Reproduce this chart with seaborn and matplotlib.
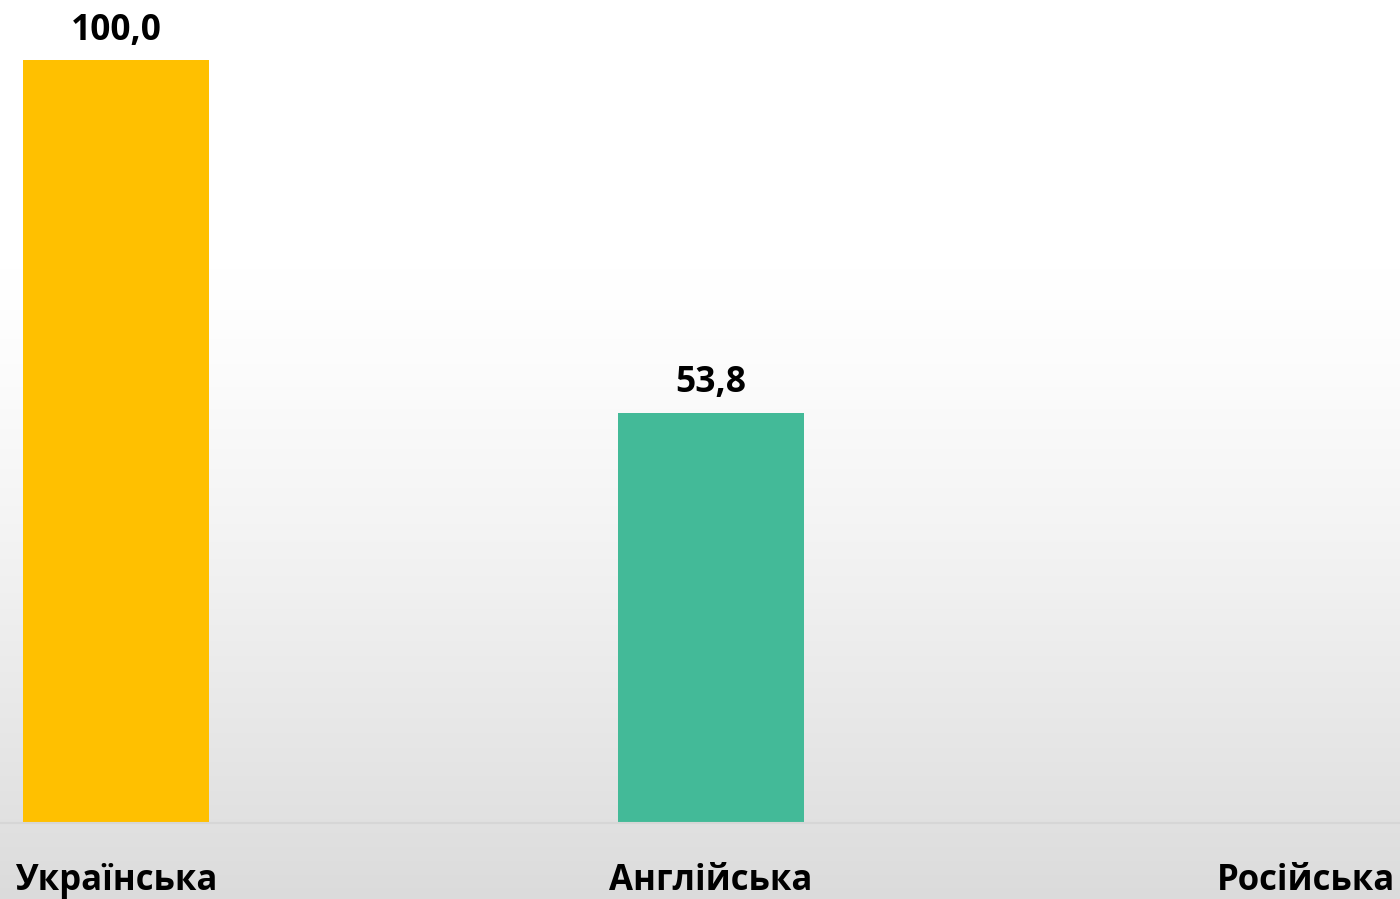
import numpy as np
import pandas as pd
import matplotlib.pyplot as plt
import seaborn as sns

# Data
languages = ["Українська", "Англійська", "Російська"]
values = [100.0, 53.8, np.nan]
bar_colors = ["#FFC000", "#43BA98", "#A5A5A5"]

df = pd.DataFrame({"lang": languages, "value": values})

sns.set_theme(style="white")
plt.rcParams['font.family'] = ['Open Sans', 'DejaVu Sans']

fig = plt.figure(figsize=(14, 8.99), dpi=100)

# Background gradient (white at top -> light grey at bottom)
bg = fig.add_axes([0, 0, 1, 1], zorder=0)
ys = np.linspace(0, 1, 400)
shade = np.clip((ys - 0.3) / 0.7, 0, 1)
grey = 1.0 - 0.14 * shade ** 1.3
img = np.repeat(grey[:, None], 2, axis=1)
bg.imshow(np.dstack([img, img, img]), aspect="auto", extent=[0, 1, 1, 0])
bg.set_xlim(0, 1)
bg.set_ylim(1, 0)
bg.axis("off")

# Main axes: bottom edge at the baseline
base_frac = (899 - 823) / 899
ax = fig.add_axes([0, base_frac, 1, 1 - base_frac], zorder=1)
ax.patch.set_alpha(0)

sns.barplot(data=df, x="lang", y="value", hue="lang", palette=bar_colors,
            width=0.314, legend=False, ax=ax, saturation=1, linewidth=0)

ax.set_xlim(-116 / 595, (1400 - 116) / 595)
ax.set_ylim(0, 100 * 823 / 763)

for i, v in enumerate(values):
    if not np.isnan(v):
        ax.text(i, v + 1.5, f"{v:.1f}".replace(".", ","), ha="center", va="bottom",
                fontsize=25.5, fontweight="bold", color="black")

ax.set_xlabel("")
ax.set_ylabel("")
ax.set_yticks([])
ax.tick_params(axis="x", length=0, pad=29)
for lab in ax.get_xticklabels():
    lab.set_fontsize(25)
    lab.set_fontweight("bold")
    lab.set_color("black")

for s in ["top", "left", "right"]:
    ax.spines[s].set_visible(False)
ax.spines["bottom"].set_color("#d6d6d6")
ax.spines["bottom"].set_linewidth(1.5)

fig.savefig("out.png", dpi=100)
